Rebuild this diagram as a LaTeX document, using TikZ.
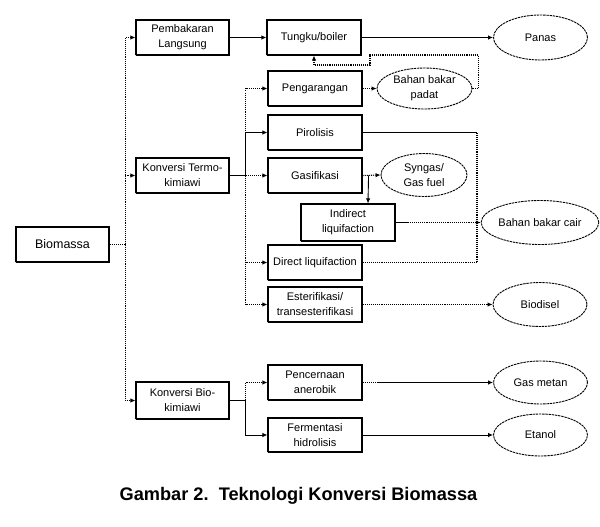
\documentclass[tikz,border=0pt]{standalone}
\usepackage{fontspec}
\setmainfont{Liberation Sans}
\usetikzlibrary{arrows.meta,shapes.geometric}
\tikzset{
  box/.style={draw, rectangle, line width=1.1pt, dash pattern=on 1.6pt off 0.4pt,
    minimum width=94pt, minimum height=35pt, inner sep=1pt, align=center,
    font=\fontsize{11}{15}\selectfont},
  oval/.style={draw, ellipse, line width=0.9pt, dash pattern=on 2.4pt off 0.8pt,
    minimum width=94pt, minimum height=43pt, inner sep=0pt, align=center,
    font=\fontsize{11}{15}\selectfont},
  tip/.style={-{Latex[length=5pt,width=4.5pt]}},
  solidline/.style={line width=0.9pt},
  dotline/.style={line width=1.1pt, densely dotted},
}
\begin{document}
\begin{tikzpicture}[x=1pt,y=-1pt]
\useasboundingbox (0,0) rectangle (600,527);
% boxes
\node[box, minimum width=93pt, font=\fontsize{12.5}{15}\selectfont] (bio) at (62.5,244.5) {Biomassa};
\node[box, minimum width=93pt] (pl) at (182.5,37.5) {Pembakaran\\Langsung};
\node[box, minimum width=93pt] (kt) at (182.5,175.5) {Konversi Termo-\\kimiawi};
\node[box, minimum width=93pt, minimum height=37pt] (kb) at (182.5,400.5) {Konversi Bio-\\kimiawi};
\node[box] (tb) at (314,37.5) {Tungku/boiler};
\node[box] (pg) at (315,88.5) {Pengarangan};
\node[box] (pr) at (315,132.5) {Pirolisis};
\node[box] (gs) at (315,175.5) {Gasifikasi};
\node[box, minimum height=37pt] (il) at (348,222.5) {Indirect\\liquifaction};
\node[box] (dl) at (315,262.5) {Direct liquifaction};
\node[box] (es) at (315,304.5) {Esterifikasi/\\transesterifikasi};
\node[box] (pc) at (315,382.5) {Pencernaan\\anerobik};
\node[box, minimum height=34pt] (fh) at (315,435) {Fermentasi\\hidrolisis};
% ellipses
\node[oval, minimum height=45pt] (panas) at (540.5,37.5) {Panas};
\node[oval, minimum width=95pt, minimum height=41pt] (bbp) at (424.5,88.5) {Bahan bakar\\padat};
\node[oval, minimum width=86pt] (syn) at (424,175) {Syngas/\\Gas fuel};
\node[oval, minimum height=44pt] (bbc) at (540,222.5) {Bahan bakar cair};
\node[oval, minimum height=44pt] (bd) at (540,304.5) {Biodisel};
\node[oval] (gm) at (540.5,382.5) {Gas metan};
\node[oval, minimum height=42pt] (et) at (540.5,435) {Etanol};
% caption
\node[font=\fontsize{18.2}{21}\selectfont\bfseries] (cap) at (298.5,496) {Gambar 2.\ \ Teknologi Konversi Biomassa};
% Biomassa bus
\draw[dotline] (bio.east) -- ++(15.5,0) coordinate (b0);
\draw[dotline, tip] (b0) |- (pl.west);
\draw[dotline, tip] (b0) |- (kt.west);
\draw[dotline, tip] (b0) |- (kb.west);
% direct combustion
\draw[solidline, tip] (pl.east) -- (tb.west);
\draw[solidline, tip] (tb.east) -- (panas.west);
% thermo-chemical bus
\draw[line width=1.8pt] (kt.east) -- ++(16,0) coordinate (t0);
\draw[dotline, tip] (t0) |- (pg.west);
\draw[dotline, tip] (t0) |- (gs.west);
\draw[dotline, tip] (t0) |- (dl.west);
\draw[dotline, tip] (t0) |- (es.west);
\draw[solidline, tip] (t0) |- (pr.west);
% pengarangan
\draw[dotline, tip] (pg.east) -- (bbp.west);
\draw[dotline, tip] (bbp.east) -- ++(6,0) |- (370,55) -- (370,65) -| (tb.south);
% pirolisis / liquid fuel
\draw[solidline] (pr.east) -- (477,132.5) coordinate (r0);
\draw[dotline] (r0) -- (477,262.5) coordinate (r1);
\draw[dotline] (dl.east) -- (r1);
\draw[solidline] (il.east) -- ++(12,0) coordinate (i0);
\draw[dotline] (i0) -- (477,222.5) coordinate (r2);
\draw[solidline, tip] (r2) -- (bbc.west);
% gasifikasi
\draw[dotline, tip] (gs.east) -- (syn.west);
\draw[solidline, tip] ([xshift=6pt]gs.east) -- ([xshift=20pt]il.north);
% esterifikasi
\draw[dotline, tip] (es.east) -- (bd.west);
% bio-chemical bus
\draw[solidline] (kb.east) -- ++(16,0) coordinate (k0);
\draw[dotline, tip] (k0) |- (pc.west);
\draw[solidline, tip] (k0) |- (fh.west);
\draw[dotline] (pc.east) -- ++(14,0) coordinate (p0);
\draw[solidline, tip] (p0) -- (gm.west);
\draw[solidline, tip] (fh.east) -- (et.west);
\end{tikzpicture}
\end{document}
